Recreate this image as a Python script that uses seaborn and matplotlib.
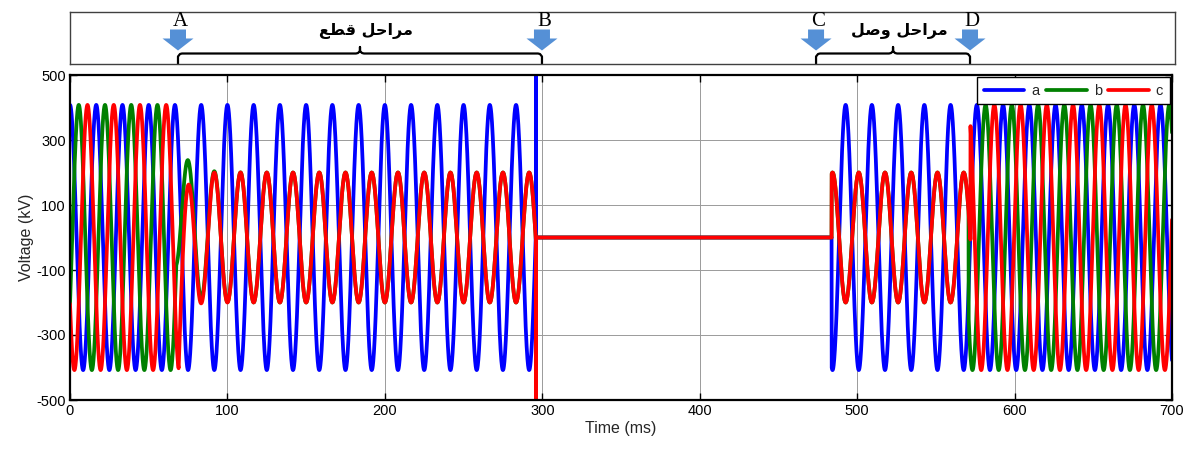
import numpy as np
import pandas as pd
import matplotlib
matplotlib.use("Agg")
import matplotlib.pyplot as plt
import seaborn as sns
from matplotlib.patches import FancyArrow

# ---------------- data ----------------
phases = ["a", "b", "c"]
phase_colors = ["#0000FF", "#008000", "#FF0000"]
time_ticks = [0, 100, 200, 300, 400, 500, 600, 700]
volt_ticks = [-500, -300, -100, 100, 300, 500]

peak_kv = 408.0            # healthy phase peak
induced_peak_kv = 200.0    # induced voltage on open phases b, c
freq_hz = 60.0
phase_shift_deg = [0.0, -120.0, 120.0]
a_peak_before_ms = 0.0     # a positive peak before trip
a_peak_after_ms = 492.7    # a positive peak after reclosing

open_ms = [None, 67.5, 69.0]      # b and c poles open (A)
open_tau_ms = [None, 7.3, 3.1]    # decay of the switching transient
trip_ms = 296.0                   # all phases de-energised (B)
trip_spike_kv = [700.0, -700.0, -700.0]
reclose_a_ms = 483.8              # phase a re-energised (C)
reclose_ms = [None, 570.8, 572.0] # b and c reclosed (D)

event_labels = ["A", "B", "C", "D"]
event_ms = [68.6, 299.8, 473.9, 571.7]
stage_labels = ["مراحل قطع", "مراحل وصل"]
stage_pairs = [(0, 1), (2, 3)]

# ---------------- simple Arabic shaping for matplotlib ----------------
_forms = {
    'ا': ('\uFE8D', '\uFE8E', None, None),
    'ر': ('\uFEAD', '\uFEAE', None, None),
    'و': ('\uFEED', '\uFEEE', None, None),
    'ح': ('\uFEA1', '\uFEA2', '\uFEA3', '\uFEA4'),
    'ص': ('\uFEB9', '\uFEBA', '\uFEBB', '\uFEBC'),
    'ط': ('\uFEC1', '\uFEC2', '\uFEC3', '\uFEC4'),
    'ع': ('\uFEC9', '\uFECA', '\uFECB', '\uFECC'),
    'ق': ('\uFED5', '\uFED6', '\uFED7', '\uFED8'),
    'ل': ('\uFEDD', '\uFEDE', '\uFEDF', '\uFEE0'),
    'م': ('\uFEE1', '\uFEE2', '\uFEE3', '\uFEE4'),
}


def shape_arabic(text):
    out = []
    n = len(text)
    for i, ch in enumerate(text):
        if ch not in _forms:
            out.append(ch)
            continue
        f = _forms[ch]
        jp = i > 0 and text[i - 1] in _forms and _forms[text[i - 1]][2] is not None
        jn = i < n - 1 and text[i + 1] in _forms and f[2] is not None
        if jp and jn:
            out.append(f[3])
        elif jp:
            out.append(f[1])
        elif jn:
            out.append(f[2])
        else:
            out.append(f[0])
    return "".join(reversed(out))


# ---------------- build waveforms ----------------
t = np.round(np.arange(0.0, 700.0001, 0.05), 4)
w = 2 * np.pi * freq_hz / 1000.0
k = induced_peak_kv / peak_kv


def nat(i, tt, t0):
    return peak_kv * np.cos(w * (tt - t0) + np.deg2rad(phase_shift_deg[i]))


volts = []
for i in range(3):
    v = np.zeros_like(t)
    seg1 = t < trip_ms
    if open_ms[i] is None:
        v[seg1] = nat(i, t[seg1], a_peak_before_ms)
    else:
        t_o = open_ms[i]
        pre = seg1 & (t < t_o)
        post = seg1 & (t >= t_o)
        v[pre] = nat(i, t[pre], a_peak_before_ms)
        d0 = nat(i, t_o, a_peak_before_ms) + k * nat(0, t_o, a_peak_before_ms)
        v[post] = (-k * nat(0, t[post], a_peak_before_ms)
                   + d0 * np.exp(-(t[post] - t_o) / open_tau_ms[i]))
    idx = np.searchsorted(t, trip_ms)
    v[idx] = trip_spike_kv[i]
    seg3 = t >= reclose_a_ms
    if reclose_ms[i] is None:
        v[seg3] = nat(i, t[seg3], a_peak_after_ms)
    else:
        ind = seg3 & (t < reclose_ms[i])
        full = t >= reclose_ms[i]
        v[ind] = -k * nat(0, t[ind], a_peak_after_ms)
        v[full] = nat(i, t[full], a_peak_after_ms)
    volts.append(v)

df = pd.concat([pd.DataFrame({"time": t, "voltage": volts[i], "phase": p})
                for i, p in enumerate(phases)], ignore_index=True)

# ---------------- figure ----------------
sns.set_theme(style="ticks")
plt.rcParams["font.family"] = ["Liberation Sans", "DejaVu Sans"]
plt.rcParams["axes.unicode_minus"] = False

W, H = 1190, 450
fig = plt.figure(figsize=(W / 100, H / 100), dpi=100)
ax = fig.add_axes([70 / W, 50 / H, 1102 / W, 325 / H])

sns.lineplot(data=df, x="time", y="voltage", hue="phase", hue_order=phases,
             palette=phase_colors, estimator=None, sort=False,
             linewidth=2.7, legend=False, ax=ax)

ax.set_xlim(0, 700)
ax.set_ylim(-500, 500)
ax.set_xticks(time_ticks)
ax.set_yticks(volt_ticks)
ax.grid(True, color="#9a9a9a", linewidth=0.7, linestyle="-")
ax.set_axisbelow(True)
ax.tick_params(direction="in", length=5, width=1.0, top=True, right=True,
               labelsize=10.5, colors="black", pad=3)
for s in ax.spines.values():
    s.set_linewidth(1.6)
    s.set_color("black")
ax.set_xlabel("Time (ms)", fontsize=11.5, labelpad=2)
ax.set_ylabel("Voltage (kV)", fontsize=11.5, labelpad=2)

leg = ax.legend(handles=ax.lines[:3], labels=phases, ncol=3, loc="upper right",
                frameon=True, fancybox=False, edgecolor="black", framealpha=1,
                fontsize=10.5, handlelength=2.8, handletextpad=0.5,
                columnspacing=0.4, borderaxespad=0.15, borderpad=0.45)
leg.get_frame().set_linewidth(1.0)

# ---------------- top annotation panel ----------------
ms_per_px = 700 / 1102
axt = fig.add_axes([70 / W, (H - 64) / H, 1105 / W, 52 / H])
axt.set_xlim(0, 1105 * ms_per_px)
axt.set_ylim(64, 12)
axt.set_xticks([])
axt.set_yticks([])
for s in axt.spines.values():
    s.set_linewidth(1.0)
    s.set_color("#404040")

arrow_color = "#5590D6"
for lab, x in zip(event_labels, event_ms):
    axt.add_patch(FancyArrow(x, 29.5, 0, 21, width=16 * ms_per_px,
                             head_width=31 * ms_per_px, head_length=12,
                             length_includes_head=True, color=arrow_color,
                             linewidth=0))
    axt.text(x + 1.5, 21, lab, ha="center", va="center", fontsize=15,
             family="Liberation Serif", color="black")

for (i0, i1), txt in zip(stage_pairs, stage_labels):
    x0, x1 = event_ms[i0], event_ms[i1]
    xm = (x0 + x1) / 2
    r = 2.0 * ms_per_px
    xs = [x0, x0, x0 + r, x0 + 2 * r, xm - 2 * r, xm - r, xm, xm,
          xm, xm + r, xm + 2 * r, x1 - 2 * r, x1 - r, x1, x1]
    ys = [64, 56.5, 54, 53.5, 53.5, 53, 51, 47,
          51, 53, 53.5, 53.5, 54, 56.5, 64]
    axt.plot(xs, ys, color="black", linewidth=1.6, solid_capstyle="butt",
             clip_on=False)
    axt.text(xm + 4, 31, shape_arabic(txt), ha="center", va="center",
             fontsize=11.5, fontweight="bold", family=["DejaVu Sans"],
             color="black")

fig.savefig("out.png", dpi=100)
